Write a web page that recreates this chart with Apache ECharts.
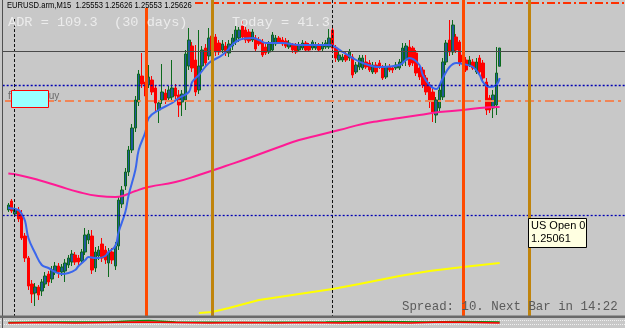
<!DOCTYPE html>
<html><head><meta charset="utf-8">
<script src="https://cdn.jsdelivr.net/npm/echarts@6/dist/echarts.min.js"></script>
<style>html,body{margin:0;padding:0;background:#c8c8c8}#c{width:625px;height:328px}</style>
</head><body><div id="c"></div><script>
// M15 EURUSD bars (oldest -> newest)
const open = [
1.24978,1.25014,1.24962,1.24978,1.24962,1.24874,1.24786,1.24682,1.24646,1.24670,
1.24654,1.24682,1.24722,1.24702,1.24730,1.24754,1.24730,1.24734,1.24758,1.24770,
1.24798,1.24786,1.24774,1.24810,1.24858,1.24874,1.24746,1.24794,1.24842,1.24818,
1.24766,1.24810,1.24754,1.24834,1.25002,1.25074,1.25130,1.25218,1.25306,1.25410,
1.25514,1.25490,1.25478,1.25498,1.25466,1.25378,1.25418,1.25446,1.25426,1.25430,
1.25466,1.25438,1.25410,1.25418,1.25554,1.25634,1.25578,1.25458,1.25554,1.25626,
1.25594,1.25674,1.25670,1.25646,1.25618,1.25634,1.25606,1.25634,1.25650,1.25666,
1.25714,1.25698,1.25690,1.25658,1.25666,1.25658,1.25650,1.25630,1.25610,1.25618,
1.25642,1.25666,1.25658,1.25654,1.25630,1.25638,1.25638,1.25618,1.25626,1.25646,
1.25638,1.25626,1.25626,1.25638,1.25622,1.25630,1.25630,1.25698,1.25626,1.25578,
1.25578,1.25598,1.25586,1.25590,1.25530,1.25550,1.25546,1.25570,1.25566,1.25530,
1.25558,1.25566,1.25546,1.25510,1.25550,1.25546,1.25546,1.25546,1.25566,1.25578,
1.25630,1.25626,1.25606,1.25546,1.25538,1.25506,1.25478,1.25450,1.25358,1.25386,
1.25430,1.25570,1.25658,1.25610,1.25670,1.25650,1.25598,1.25578,1.25558,1.25570,
1.25530,1.25586,1.25566,1.25490,1.25426,1.25386,1.25398,1.25553];
const close = [
1.24998,1.24974,1.24982,1.24942,1.24866,1.24786,1.24674,1.24642,1.24670,1.24638,
1.24690,1.24714,1.24690,1.24738,1.24754,1.24730,1.24750,1.24766,1.24786,1.24802,
1.24770,1.24770,1.24810,1.24878,1.24882,1.24738,1.24810,1.24818,1.24786,1.24778,
1.24810,1.24778,1.24834,1.25018,1.25058,1.25130,1.25218,1.25306,1.25418,1.25522,
1.25482,1.25434,1.25510,1.25450,1.25406,1.25406,1.25450,1.25418,1.25458,1.25466,
1.25434,1.25398,1.25442,1.25602,1.25658,1.25546,1.25450,1.25554,1.25618,1.25566,
1.25666,1.25618,1.25610,1.25610,1.25642,1.25606,1.25642,1.25666,1.25698,1.25698,
1.25670,1.25658,1.25654,1.25690,1.25622,1.25642,1.25598,1.25606,1.25642,1.25678,
1.25666,1.25650,1.25642,1.25634,1.25646,1.25618,1.25610,1.25638,1.25646,1.25618,
1.25618,1.25650,1.25638,1.25618,1.25638,1.25646,1.25666,1.25626,1.25586,1.25598,
1.25590,1.25578,1.25610,1.25518,1.25558,1.25586,1.25586,1.25550,1.25538,1.25558,
1.25530,1.25550,1.25506,1.25550,1.25538,1.25538,1.25558,1.25570,1.25626,1.25634,
1.25558,1.25566,1.25526,1.25510,1.25478,1.25450,1.25418,1.25370,1.25418,1.25458,
1.25570,1.25646,1.25610,1.25718,1.25618,1.25566,1.25570,1.25538,1.25578,1.25546,
1.25570,1.25530,1.25506,1.25378,1.25378,1.25438,1.25526,1.25626];
const low = [
1.24970,1.24966,1.24954,1.24930,1.24858,1.24770,1.24658,1.24606,1.24594,1.24618,
1.24634,1.24666,1.24674,1.24686,1.24718,1.24706,1.24714,1.24690,1.24746,1.24754,
1.24758,1.24754,1.24762,1.24798,1.24842,1.24722,1.24730,1.24778,1.24770,1.24762,
1.24710,1.24762,1.24738,1.24818,1.24986,1.25058,1.25114,1.25206,1.25290,1.25394,
1.25466,1.25422,1.25466,1.25438,1.25366,1.25326,1.25402,1.25402,1.25410,1.25418,
1.25422,1.25350,1.25354,1.25378,1.25538,1.25530,1.25434,1.25442,1.25538,1.25554,
1.25578,1.25570,1.25594,1.25598,1.25606,1.25594,1.25590,1.25618,1.25638,1.25650,
1.25658,1.25646,1.25646,1.25650,1.25614,1.25634,1.25590,1.25598,1.25602,1.25610,
1.25634,1.25642,1.25634,1.25626,1.25622,1.25606,1.25602,1.25610,1.25618,1.25610,
1.25610,1.25618,1.25618,1.25610,1.25614,1.25622,1.25622,1.25618,1.25570,1.25570,
1.25570,1.25570,1.25574,1.25506,1.25522,1.25538,1.25538,1.25542,1.25530,1.25522,
1.25522,1.25542,1.25498,1.25502,1.25530,1.25526,1.25538,1.25538,1.25554,1.25554,
1.25550,1.25554,1.25514,1.25498,1.25466,1.25438,1.25386,1.25330,1.25326,1.25374,
1.25418,1.25558,1.25594,1.25598,1.25606,1.25554,1.25558,1.25530,1.25550,1.25538,
1.25522,1.25522,1.25498,1.25358,1.25366,1.25346,1.25358,1.25553];
const high = [
1.25006,1.25022,1.24990,1.24990,1.24978,1.24886,1.24794,1.24698,1.24686,1.24678,
1.24702,1.24730,1.24734,1.24754,1.24770,1.24766,1.24762,1.24782,1.24798,1.24818,
1.24810,1.24798,1.24822,1.24906,1.24898,1.24898,1.24830,1.24834,1.24866,1.24834,
1.24826,1.24826,1.24850,1.25030,1.25074,1.25146,1.25234,1.25322,1.25434,1.25538,
1.25606,1.25502,1.25558,1.25514,1.25478,1.25418,1.25562,1.25462,1.25474,1.25578,
1.25482,1.25458,1.25458,1.25618,1.25706,1.25650,1.25638,1.25698,1.25634,1.25642,
1.25706,1.25698,1.25682,1.25658,1.25658,1.25650,1.25658,1.25682,1.25714,1.25710,
1.25738,1.25710,1.25702,1.25702,1.25678,1.25670,1.25662,1.25642,1.25654,1.25690,
1.25678,1.25674,1.25670,1.25666,1.25658,1.25646,1.25646,1.25650,1.25658,1.25654,
1.25646,1.25658,1.25650,1.25646,1.25650,1.25658,1.25702,1.25706,1.25638,1.25610,
1.25602,1.25610,1.25622,1.25602,1.25570,1.25598,1.25598,1.25598,1.25578,1.25570,
1.25570,1.25578,1.25558,1.25566,1.25562,1.25554,1.25570,1.25582,1.25646,1.25646,
1.25658,1.25634,1.25618,1.25558,1.25550,1.25518,1.25490,1.25466,1.25430,1.25474,
1.25586,1.25658,1.25738,1.25738,1.25682,1.25658,1.25610,1.25590,1.25594,1.25582,
1.25586,1.25598,1.25578,1.25506,1.25438,1.25458,1.25630,1.25626];

// moving averages: [bar index, price]
const maFast = [[0,1.24986],[3,1.24978],[4,1.24962],[5,1.24934],[6,1.24866],[8,1.24806],[10,1.24758],[12,1.24746],[14,1.24730],[16,1.24722],[18,1.24726],[20,1.24738],[21,1.24754],[23,1.24778],[24,1.24790],[26,1.24786],[27,1.24786],[29,1.24794],[30,1.24810],[32,1.24834],[33,1.24890],[35,1.24970],[36,1.25038],[38,1.25138],[39,1.25218],[41,1.25290],[42,1.25346],[45,1.25378],[49,1.25406],[51,1.25426],[54,1.25450],[55,1.25490],[57,1.25518],[60,1.25566],[64,1.25598],[69,1.25658],[73,1.25666],[75,1.25658],[77,1.25646],[82,1.25646],[87,1.25638],[91,1.25638],[96,1.25638],[100,1.25610],[103,1.25586],[106,1.25566],[111,1.25550],[117,1.25558],[120,1.25586],[123,1.25558],[124,1.25518],[126,1.25478],[128,1.25462],[130,1.25506],[132,1.25550],[134,1.25566],[136,1.25562],[139,1.25550],[141,1.25518],[142,1.25490],[144,1.25470],[146,1.25478],[147,1.25506]];
const maSlow = [[0,1.25124],[3,1.25118],[9,1.25098],[15,1.25074],[21,1.25050],[27,1.25034],[32,1.25030],[35,1.25038],[38,1.25054],[42,1.25070],[50,1.25090],[57,1.25118],[65,1.25154],[72,1.25186],[81,1.25230],[87,1.25258],[93,1.25278],[99,1.25298],[106,1.25322],[111,1.25334],[117,1.25346],[123,1.25358],[129,1.25370],[136,1.25378],[141,1.25386],[147,1.25390]];
const maLong = [[57,1.24566],[61,1.24570],[66,1.24586],[75,1.24618],[87,1.24642],[97,1.24662],[105,1.24682],[117,1.24714],[126,1.24734],[136,1.24750],[147,1.24766]];

// lower indicator window
const indRed = [[0,5],[10,5.5],[20,5],[30,5.5],[40,6],[50,5.5],[60,5],[70,5.5],[80,5],[90,5.5],[100,5],[110,5.5],[120,5],[130,6],[140,5.5],[147,5]];
const indGreen = [[0,5.5],[15,6],[30,6],[36,7],[42,7.5],[50,6],[70,5.5],[95,6],[110,6.5],[125,6],[135,6.5],[147,6]];

// horizontal levels and session markers (bar positions)
const levelGray = 1.25614, levelBlueHi = 1.25478, levelOrange = 1.25414, levelBlueLo = 1.24958, levelTop = 1.25806;
const sepBars = [1.69, 96.84];
const redBars = [41.19, 136.04];
const goldBars = [60.93, 155.79];

const LEAD = 2, NCAT = 187;
const cats = []; for (let i = 0; i < NCAT; i++) cats.push(String(i));
const ohlc = cats.map((c, k) => { const i = k - LEAD; return (i >= 0 && i < open.length) ? [open[i], close[i], low[i], high[i]] : '-'; });
const sh = arr => arr.map(p => [p[0] + LEAD, p[1]]);

const yMin = 1.24554, yMax = 1.25818;
const xL = -LEAD - 0.5, xR = NCAT - LEAD - 0.5;
const vline = (v, color, w, type, yTop) => [{coord: [v, yTop == null ? yMax : yTop], lineStyle: {color, width: w, type}}, {coord: [v, yMin]}];
const hline = (p, color, w, type, x0) => [{coord: [x0 == null ? xL + 0.01 : x0, p], lineStyle: {color, width: w, type}}, {coord: [xR - 0.01, p]}];

const mlBack = [];
sepBars.forEach((v, k) => mlBack.push(vline(v, '#111', 1, [3, 2], k === 0 ? 1.25742 : yMax)));
mlBack.push(hline(levelGray, '#4a4a4a', 1, 'solid', -1.7));
mlBack.push(hline(levelBlueHi, '#0000b4', 1.3, [2, 2], -1.7));
mlBack.push(hline(levelBlueLo, '#0000b4', 1.3, [2, 2], -1.7));
mlBack.push(hline(levelOrange, '#f08556', 2, [9, 4, 3, 4], -1.0));
const mlFront = [];
mlFront.push(hline(levelTop, '#ff3000', 2, [8, 3, 2, 3], 55.85));
redBars.forEach((v, k) => mlFront.push(vline(v, '#ff4a00', 3, 'solid', k === 0 ? 1.25786 : yMax)));
goldBars.forEach(v => mlFront.push(vline(v, '#c0840c', 3, 'solid', yMax)));

const chart = echarts.init(document.getElementById('c'), null, {renderer: 'canvas'});
chart.setOption({
  animation: false,
  backgroundColor: '#c8c8c8',
  grid: [
    {left: 0, width: 625, top: 0, height: 316},
    {left: 0, width: 625, top: 318, height: 10}
  ],
  xAxis: [
    {type: 'category', data: cats, gridIndex: 0, show: false, boundaryGap: true},
    {type: 'value', min: xL, max: xR, gridIndex: 0, show: false},
    {type: 'category', data: cats, gridIndex: 1, show: false, boundaryGap: true}
  ],
  yAxis: [
    {type: 'value', min: yMin, max: yMax, gridIndex: 0, show: false},
    {type: 'value', min: 0, max: 10, gridIndex: 1, show: false}
  ],
  series: [
    {type: 'line', xAxisIndex: 1, yAxisIndex: 0, data: [], silent: true, z: 1,
     markLine: {silent: true, symbol: ['none', 'none'], label: {show: false}, animation: false, data: mlBack}},
    {type: 'candlestick', xAxisIndex: 0, yAxisIndex: 0, data: ohlc, barWidth: 3, z: 3,
     itemStyle: {color: '#22589a', color0: '#ff0000', borderColor: '#0c6a1c', borderColor0: '#ff0000', borderWidth: 1}},
    {type: 'line', xAxisIndex: 0, yAxisIndex: 0, data: sh(maSlow), smooth: true, symbol: 'none', z: 4,
     lineStyle: {color: '#ff1a94', width: 2}},
    {type: 'line', xAxisIndex: 0, yAxisIndex: 0, data: sh(maFast), smooth: 0.4, symbol: 'none', z: 4,
     lineStyle: {color: '#3a66ec', width: 2}},
    {type: 'line', xAxisIndex: 0, yAxisIndex: 0, data: sh(maLong), symbol: 'none', z: 4, clip: false,
     lineStyle: {color: '#ffff00', width: 2}},
    {type: 'line', xAxisIndex: 1, yAxisIndex: 0, data: [], silent: true, z: 5,
     markLine: {silent: true, symbol: ['none', 'none'], label: {show: false}, animation: false, data: mlFront}},
    {type: 'line', xAxisIndex: 2, yAxisIndex: 1, data: sh(indGreen), symbol: 'none', lineStyle: {color: '#0a8a0a', width: 1.5}},
    {type: 'line', xAxisIndex: 2, yAxisIndex: 1, data: sh(indRed), symbol: 'none', lineStyle: {color: '#ff0000', width: 1.5}}
  ],
  graphic: [
    {type: 'line', shape: {x1: 2.5, y1: 0, x2: 2.5, y2: 328}, style: {stroke: '#505050', lineWidth: 1}, z: 10},
    {type: 'rect', shape: {x: 0, y: 315.5, width: 625, height: 2.5}, style: {fill: '#6a6a6a'}, z: 10},
    {type: 'line', shape: {x1: 0, y1: 320.5, x2: 625, y2: 320.5}, style: {stroke: '#efefef', lineWidth: 1, lineDash: [1, 1]}, z: 1},
    {type: 'line', shape: {x1: 0, y1: 324.5, x2: 625, y2: 324.5}, style: {stroke: '#efefef', lineWidth: 1, lineDash: [1, 1]}, z: 1},
    {type: 'text', x: 7, y: 0, scaleX: 0.8, z: 20,
     style: {text: 'EURUSD.arm,M15  1.25553 1.25626 1.25553 1.25626', font: '9.5px "Liberation Sans"', fill: '#000', verticalAlign: 'top'}},
    {type: 'text', x: 8, y: 15.5, z: 20,
     style: {text: 'ADR = 109.3  (30 days)', font: '13.6px "Liberation Mono"', fill: '#ececec', verticalAlign: 'top'}},
    {type: 'text', x: 232, y: 15.5, z: 20,
     style: {text: 'Today = 41.3', font: '13.6px "Liberation Mono"', fill: '#ececec', verticalAlign: 'top'}},
    {type: 'text', x: 8, y: 91, z: 20, style: {text: 'f', font: '10px "Liberation Sans"', fill: '#6a6a6a', verticalAlign: 'top'}},
    {type: 'text', x: 42, y: 91, z: 20, style: {text: 'Buy', font: '10px "Liberation Sans"', fill: '#6a6a6a', verticalAlign: 'top'}},
    {type: 'rect', shape: {x: 11.5, y: 90.5, width: 37, height: 17}, style: {fill: '#99ffff', stroke: '#ff0000', lineWidth: 1}, z: 21},
    {type: 'rect', shape: {x: 528.5, y: 218.5, width: 58, height: 29}, style: {fill: '#ffffe1', stroke: '#000', lineWidth: 1}, z: 21},
    {type: 'text', x: 531, y: 220, z: 22, style: {text: 'US Open 0', font: '11px "Liberation Sans"', fill: '#000', verticalAlign: 'top'}},
    {type: 'text', x: 531, y: 233, z: 22, style: {text: '1.25061', font: '11px "Liberation Sans"', fill: '#000', verticalAlign: 'top'}},
    {type: 'text', x: 402, y: 301, z: 20,
     style: {text: 'Spread: 10. Next Bar in 14:22', font: '12.4px "Liberation Mono"', fill: '#5a5a5a', verticalAlign: 'top'}}
  ]
});
</script></body></html>
